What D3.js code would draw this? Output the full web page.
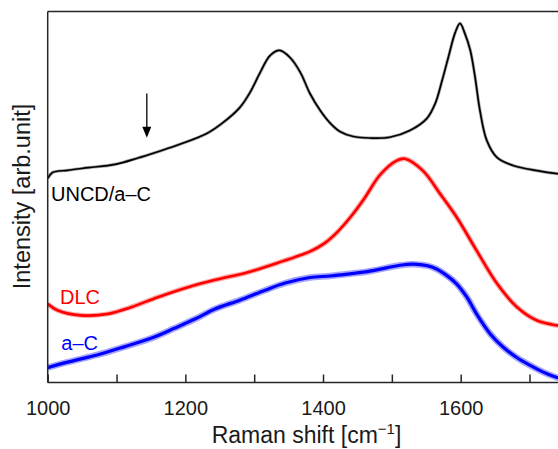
<!DOCTYPE html>
<html>
<head>
<meta charset="utf-8">
<script src="https://cdn.jsdelivr.net/npm/d3@7"></script>
<style>
  html, body { margin: 0; padding: 0; background: #fff; }
  svg { display: block; }
  text { font-family: "Liberation Sans", Arial, Helvetica, sans-serif; }
</style>
</head>
<body>
<div id="chart"></div>
<script>
// Raman spectra: wavenumber (cm^-1) and intensity (arbitrary units, offset per sample)
const uncdShift = [1000, 1007, 1029, 1059, 1098, 1131, 1160, 1192, 1231, 1255, 1279, 1294, 1308, 1323, 1337, 1352, 1367, 1381, 1396, 1410, 1425, 1444, 1468, 1497, 1526, 1551, 1563, 1573, 1582, 1592, 1599, 1606, 1614, 1621, 1628, 1638, 1653, 1676, 1711, 1740, 1760];
const uncdIntensity = [55.0, 56.6, 57.2, 57.9, 58.8, 60.5, 62.2, 64.2, 67.1, 70.1, 74.1, 78.2, 83.3, 88.1, 89.5, 87.6, 83.6, 77.9, 73.3, 70.0, 67.6, 66.3, 65.9, 66.1, 67.9, 71.2, 75.2, 81.4, 87.6, 94.3, 96.8, 94.1, 89.5, 82.2, 73.3, 65.2, 60.6, 58.5, 57.1, 56.3, 56.0];

const dlcShift = [1000, 1015, 1048, 1088, 1121, 1160, 1204, 1242, 1291, 1330, 1359, 1382, 1402, 1420, 1440, 1460, 1483, 1507, 1519, 1545, 1570, 1594, 1623, 1653, 1682, 1711, 1740, 1760];
const dlcIntensity = [21.2, 19.4, 18.1, 18.5, 20.3, 23.0, 25.7, 27.6, 29.7, 32.0, 33.8, 35.4, 37.5, 40.4, 44.6, 49.6, 56.0, 59.8, 60.3, 57.1, 50.9, 44.6, 35.6, 26.6, 20.3, 16.7, 15.4, 15.0];

const acShift = [1000, 1029, 1073, 1111, 1150, 1184, 1214, 1243, 1279, 1315, 1345, 1381, 1410, 1439, 1468, 1492, 1512, 1531, 1551, 1565, 1580, 1594, 1609, 1623, 1643, 1662, 1681, 1701, 1720, 1739, 1760];
const acIntensity = [4.0, 5.5, 7.5, 9.6, 11.9, 14.6, 17.1, 19.8, 22.2, 24.8, 26.8, 28.3, 28.7, 29.3, 30.0, 30.9, 31.6, 31.9, 31.5, 30.6, 28.8, 26.6, 23.0, 18.5, 13.1, 9.5, 6.8, 4.6, 2.8, 1.4, 0.8];

const seriesNames = ["UNCD/a\u2013C", "DLC", "a\u2013C"];
const seriesColors = ["#000000", "#ff0000", "#0000ff"];

const xTickValues = [1000, 1100, 1200, 1300, 1400, 1500, 1600, 1700];
const xTickLabels = ["1000", "", "1200", "", "1400", "", "1600", ""];

// marker arrow over the shoulder of the UNCD/a-C spectrum
const arrowShift = 1144;
const arrowFrom = 77.9;
const arrowTo = 66.0;

const width = 558, height = 449;
const margin = { left: 47.7, top: 11.5, bottom: 382.5 };

const svg = d3.select("#chart").append("svg")
  .attr("width", width).attr("height", height)
  .attr("viewBox", `0 0 ${width} ${height}`);

const x = d3.scaleLinear().domain([1000, 1800]).range([margin.left, margin.left + 800 * 0.6883]);
const y = d3.scaleLinear().domain([0, 100]).range([margin.bottom, margin.top]);

svg.append("defs").append("clipPath").attr("id", "plot-clip")
  .append("rect")
  .attr("x", margin.left).attr("y", margin.top)
  .attr("width", width - margin.left).attr("height", margin.bottom - margin.top);

const series = [
  { name: seriesNames[0], color: seriesColors[0], xs: uncdShift, ys: uncdIntensity, core: 1.7, halo: 3.2 },
  { name: seriesNames[1], color: seriesColors[1], xs: dlcShift, ys: dlcIntensity, core: 2.6, halo: 5.0 },
  { name: seriesNames[2], color: seriesColors[2], xs: acShift, ys: acIntensity, core: 3.2, halo: 6.5 }
];

const line = d3.line()
  .x(d => x(d[0]))
  .y(d => y(d[1]))
  .curve(d3.curveCatmullRom.alpha(0.5));

const plot = svg.append("g").attr("clip-path", "url(#plot-clip)");

series.forEach(s => {
  const pts = s.xs.map((v, i) => [v, s.ys[i]]);
  plot.append("path")
    .attr("d", line(pts))
    .attr("fill", "none")
    .attr("stroke", s.color)
    .attr("stroke-opacity", 0.35)
    .attr("stroke-width", s.halo)
    .attr("stroke-linejoin", "round");
  plot.append("path")
    .attr("d", line(pts))
    .attr("fill", "none")
    .attr("stroke", s.color)
    .attr("stroke-width", s.core)
    .attr("stroke-linejoin", "round");
});

// frame: left axis, top border
const frameColor = "#262626";
svg.append("line")
  .attr("x1", margin.left).attr("x2", width + 2)
  .attr("y1", margin.top).attr("y2", margin.top)
  .attr("stroke", frameColor).attr("stroke-width", 1.5);
svg.append("line")
  .attr("x1", margin.left).attr("x2", margin.left)
  .attr("y1", margin.top).attr("y2", margin.bottom)
  .attr("stroke", frameColor).attr("stroke-width", 1.5);

// bottom axis with inward ticks
const xAxis = d3.axisBottom(x)
  .tickValues(xTickValues)
  .tickSizeInner(-8)
  .tickSizeOuter(0)
  .tickPadding(18)
  .tickFormat((d, i) => xTickLabels[i]);

const gx = svg.append("g")
  .attr("transform", `translate(0,${margin.bottom})`)
  .call(xAxis);
gx.select(".domain")
  .attr("d", `M${margin.left},0H${width + 2}`)
  .attr("stroke", frameColor).attr("stroke-width", 1.5);
gx.selectAll(".tick line").attr("stroke", frameColor).attr("stroke-width", 1.5);
gx.selectAll(".tick text")
  .attr("fill", "#1a1a1a")
  .style("font-size", "20px")
  .style("font-family", "'Liberation Sans', Arial, sans-serif");

// axis titles
const xTitle = svg.append("text")
  .attr("x", 306.5).attr("y", 443)
  .attr("text-anchor", "middle")
  .attr("fill", "#1a1a1a")
  .style("font-size", "23px");
xTitle.append("tspan").text("Raman shift [cm");
xTitle.append("tspan").attr("dy", -9).style("font-size", "15px").text("\u22121");
xTitle.append("tspan").attr("dy", 9).text("]");

svg.append("text")
  .attr("transform", "translate(30,196.5) rotate(-90)")
  .attr("text-anchor", "middle")
  .attr("fill", "#1a1a1a")
  .style("font-size", "23.5px")
  .text("Intensity [arb.unit]");

// series labels
const labelPos = [[51, 201], [60, 304], [61.3, 350]];
series.forEach((s, i) => {
  svg.append("text")
    .attr("x", labelPos[i][0]).attr("y", labelPos[i][1])
    .attr("fill", s.color)
    .style("font-size", "20px")
    .text(s.name);
});

// arrow
const ax = x(arrowShift);
svg.append("line")
  .attr("x1", ax).attr("x2", ax)
  .attr("y1", y(arrowFrom)).attr("y2", y(arrowTo) - 9)
  .attr("stroke", "#000").attr("stroke-width", 1.3);
svg.append("path")
  .attr("d", `M${ax - 4.5},${y(arrowTo) - 11} L${ax + 4.5},${y(arrowTo) - 11} L${ax},${y(arrowTo)} Z`)
  .attr("fill", "#000");
</script>
</body>
</html>
